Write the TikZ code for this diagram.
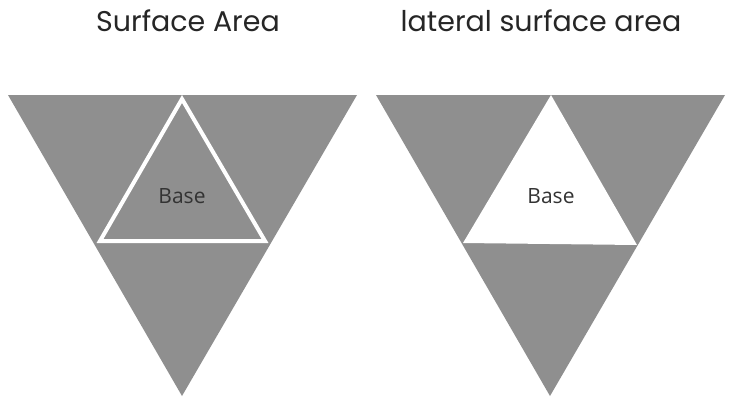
\documentclass[tikz,border=0pt]{standalone}
\usepackage{fontspec}
\setmainfont{Poppins}
\newfontfamily\basefont{Open Sans}
\definecolor{facegray}{HTML}{8F8F8F}
\tikzset{
  face/.style={fill=facegray, draw=none},
  title/.style={font=\fontsize{28.5}{32}\selectfont, text=black!85, inner sep=0pt, anchor=base},
  baselabel/.style={font=\basefont\fontsize{21}{24}\selectfont, text=black!80, inner sep=0pt},
}
\begin{document}
\begin{tikzpicture}[x=1pt,y=-1pt]
\useasboundingbox (0,0) rectangle (732,400);
\fill[white] (0,0) rectangle (732,400);
% left: surface area
\fill[face] (8,95) -- (357,95) -- (182,396) -- cycle;
\draw[white, line width=4pt, line join=miter] (182,99) -- (265,241) -- (100,241) -- cycle;
\node[title] (t1) at (188,31) {Surface Area};
\node[baselabel] (b1) at (182,196) {Base};
% right: lateral surface area
\fill[face] (376,95) -- (725,95) -- (550,396) -- cycle;
\fill[white] (551,95) -- (637,245) -- (463,243) -- cycle;
\node[title] (t2) at (541,31) {lateral surface area};
\node[baselabel] (b2) at (551,196) {Base};
\end{tikzpicture}
\end{document}
